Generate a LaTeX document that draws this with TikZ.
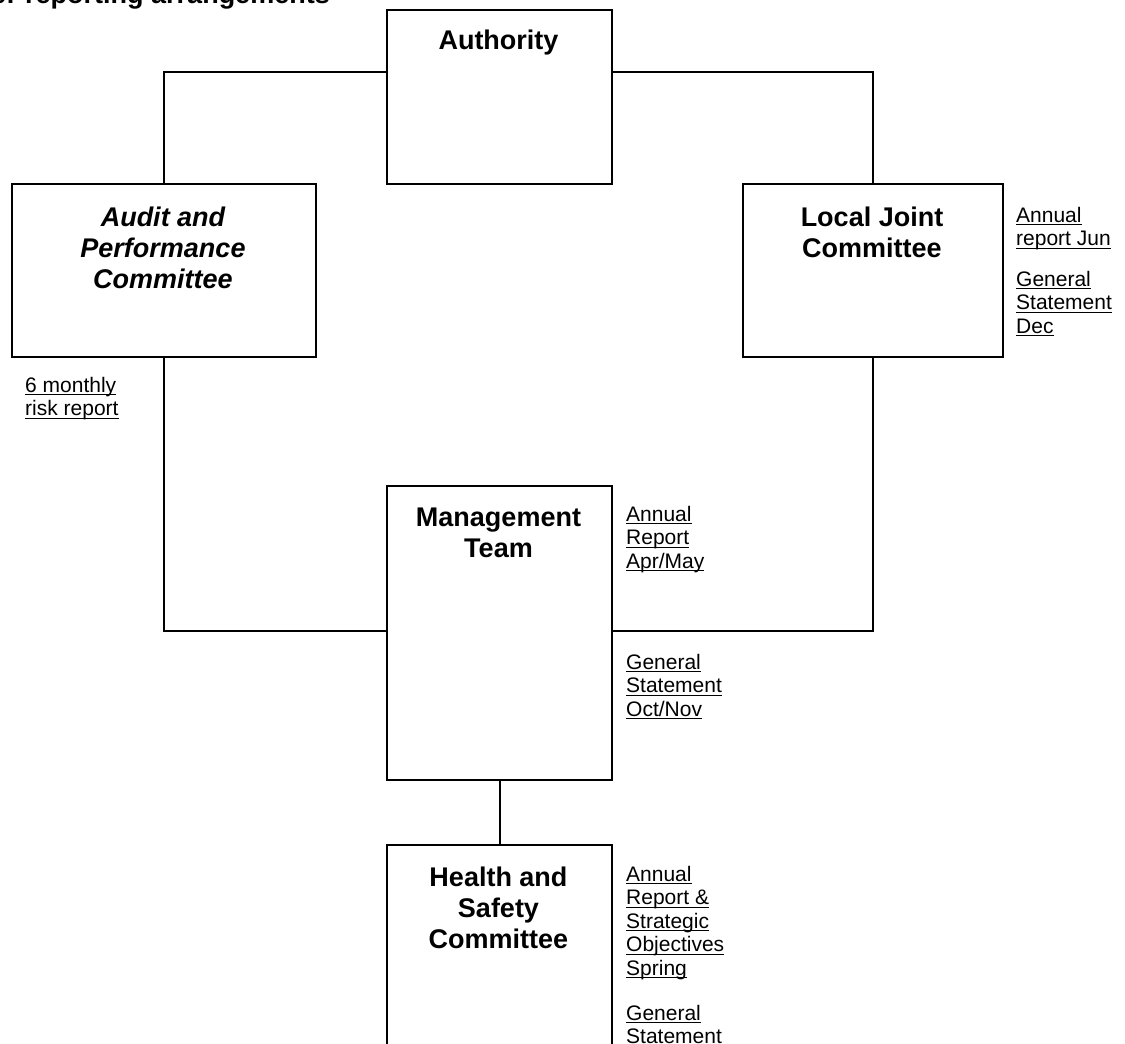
\documentclass[tikz,border=0pt]{standalone}
\usepackage{fontspec}
\setmainfont{Liberation Sans}
\newcommand\ulx[1]{\setbox0\hbox{#1}\rlap{\rule[-3pt]{\wd0}{1.4pt}}\box0}
\begin{document}
\begin{tikzpicture}[x=1pt,y=-1pt,
  box/.style={draw,line width=2pt,inner sep=0pt,anchor=north west},
  conn/.style={line width=2pt},
  ttl/.style={font=\bfseries\fontsize{27}{31}\selectfont,align=center,inner sep=0pt,anchor=north},
  lbl/.style={font=\fontsize{21}{23.5}\selectfont,align=left,inner sep=0pt,anchor=north west}]
\useasboundingbox (0,0) rectangle (1125,1044);
\node[anchor=base east,font=\bfseries\fontsize{27}{31}\selectfont,inner sep=0pt] (title) at (330,4) {e: reporting arrangements};
% boxes
\node[box,minimum width=225pt,minimum height=174pt] (auth) at (386,9) {};
\node[box,minimum width=304pt,minimum height=173pt] (audit) at (11,183) {};
\node[box,minimum width=260pt,minimum height=173pt] (ljc) at (742,183) {};
\node[box,minimum width=225pt,minimum height=294pt] (mgmt) at (386,485) {};
\node[box,minimum width=225pt,minimum height=220pt] (hs) at (386,844) {};
% titles
\node[ttl] (authT) at (498.5,30) {Authority};
\node[ttl,font=\bfseries\itshape\fontsize{27}{31}\selectfont] (auditT) at (163,207) {Audit and\\Performance\\Committee};
\node[ttl] (ljcT) at (872,207) {Local Joint\\Committee};
\node[ttl] (mgmtT) at (498.5,508) {Management\\Team};
\node[ttl] (hsT) at (498.5,867) {Health and\\Safety\\Committee};
% connectors
\coordinate (jA) at (0,72);
\coordinate (jB) at (0,631);
\draw[conn] (auth.west |- jA) -| (audit.north);
\draw[conn] (auth.east |- jA) -| (ljc.north);
\draw[conn] (audit.south) |- (mgmt.west |- jB);
\draw[conn] (ljc.south) |- (mgmt.east |- jB);
\draw[conn] (mgmt.south) -- (hs.north);
% labels
\node[lbl] (l1) at (1016,207) {\ulx{Annual}\\\ulx{report Jun}};
\node[lbl] (l2) at (1016,271) {\ulx{General}\\\ulx{Statement}\\\ulx{Dec}};
\node[lbl] (l3) at (25,377) {\ulx{6 monthly}\\\ulx{risk report}};
\node[lbl] (l4) at (626,506) {\ulx{Annual}\\\ulx{Report}\\\ulx{Apr/May}};
\node[lbl] (l5) at (626,654) {\ulx{General}\\\ulx{Statement}\\\ulx{Oct/Nov}};
\node[lbl] (l6) at (626,866) {\ulx{Annual}\\\ulx{Report \&}\\\ulx{Strategic}\\\ulx{Objectives}\\\ulx{Spring}};
\node[lbl] (l7) at (626,1005) {\ulx{General}\\\ulx{Statement}};
\end{tikzpicture}
\end{document}
